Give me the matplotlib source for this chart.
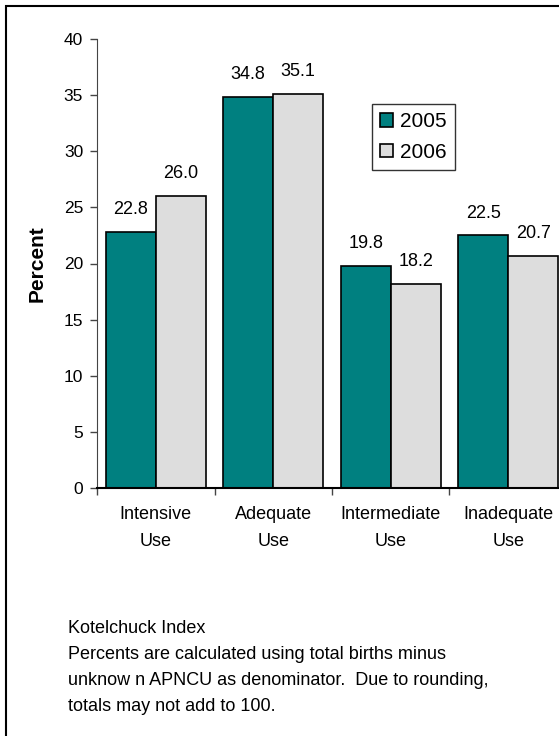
import numpy as np
import matplotlib
matplotlib.use("Agg")
import matplotlib.pyplot as plt
from matplotlib.patches import Rectangle

# Kotelchuck index categories and percents
categories = ["Intensive\nUse", "Adequate\nUse", "Intermediate\nUse", "Inadequate\nUse"]
pct_2005 = [22.8, 34.8, 19.8, 22.5]
pct_2006 = [26.0, 35.1, 18.2, 20.7]
years = ["2005", "2006"]
note_lines = [
    "Kotelchuck Index",
    "Percents are calculated using total births minus",
    "unknow n APNCU as denominator.  Due to rounding,",
    "totals may not add to 100.",
]

plt.rcParams["font.family"] = ["Liberation Sans", "DejaVu Sans"]

W, H = 559, 736
fig = plt.figure(figsize=(W / 100, H / 100), dpi=100)

# axes placed in pixel terms (right end runs past the image like the original)
ax = fig.add_axes([97 / W, 1 - 488 / H, 470 / W, 449 / H])

x = np.arange(len(categories))
w = 0.425
b1 = ax.bar(x - w / 2, pct_2005, w, color="#008080", edgecolor="black", linewidth=1.2, label=years[0])
b2 = ax.bar(x + w / 2, pct_2006, w, color="#DDDDDD", edgecolor="black", linewidth=1.2, label=years[1])

for bars, vals in ((b1, pct_2005), (b2, pct_2006)):
    for r, v in zip(bars, vals):
        ax.annotate(f"{v:.1f}", (r.get_x() + r.get_width() / 2, v),
                    xytext=(0, 10), textcoords="offset points",
                    ha="center", va="bottom", fontsize=13)

ax.set_xlim(-0.5, 3.5)
ax.set_ylim(0, 40)
ax.set_yticks(np.arange(0, 41, 5))
ax.set_xticks(x)
ax.set_xticklabels(categories, fontsize=13, linespacing=1.75)
ax.set_xticks([-0.5, 0.5, 1.5, 2.5], minor=True)
ax.tick_params(axis="x", which="major", length=0, pad=13)
ax.tick_params(axis="x", which="minor", length=5, direction="out", width=1, color="#444444")
ax.tick_params(axis="y", length=5, direction="out", width=1, color="#444444", labelsize=12.5, pad=5)

for s in ("top", "right"):
    ax.spines[s].set_visible(False)
ax.spines["left"].set_color("#444444")
ax.spines["bottom"].set_color("black")
ax.spines["bottom"].set_linewidth(1.5)

ax.set_ylabel("Percent", fontsize=15, fontweight="bold", labelpad=12)

leg = fig.legend(handles=[b1, b2], loc="upper left",
                 bbox_to_anchor=(372 / W, 1 - 104 / H), borderaxespad=0,
                 fancybox=False, edgecolor="#333333", framealpha=1,
                 fontsize=15, handlelength=0.6, handleheight=0.6,
                 handletextpad=0.35, labelspacing=0.55, borderpad=0.4)
leg.get_frame().set_linewidth(1.0)

# footnote
for i, line in enumerate(note_lines):
    fig.text(68 / W, 1 - (633 + 26 * i) / H, line, fontsize=13, ha="left", va="baseline")

# outer frame, cut off at right and bottom like the source image
fig.patches.append(Rectangle((6 / W, -0.1), 2, 1.1 - 6 / H, transform=fig.transFigure,
                             fill=False, edgecolor="black", linewidth=1.5))

fig.savefig("out.png", dpi=100)
